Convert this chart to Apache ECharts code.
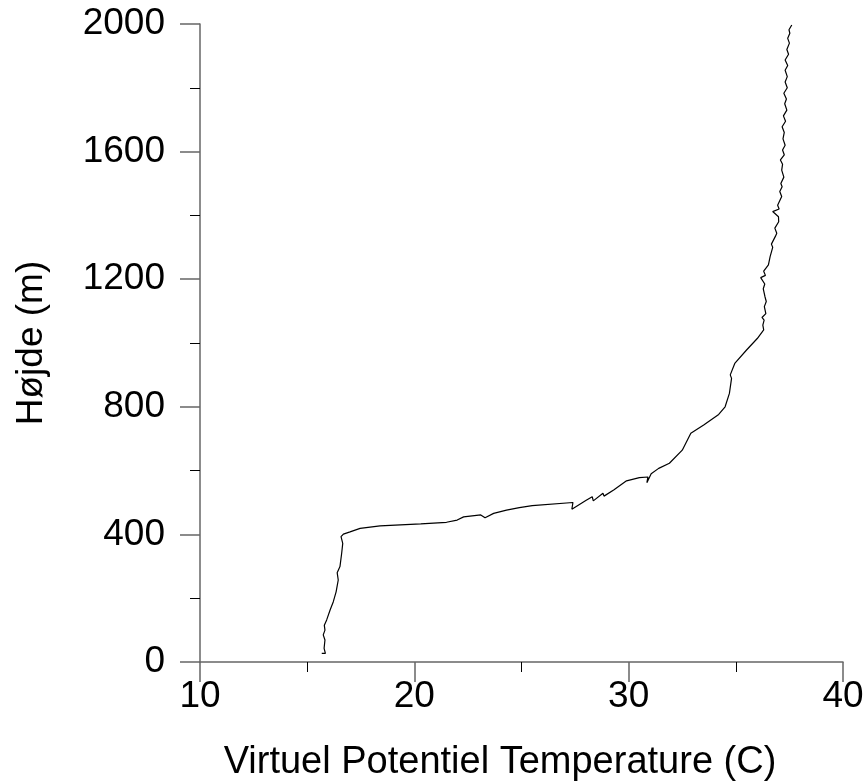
<!DOCTYPE html>
<html>
<head>
<meta charset="utf-8">
<script src="https://cdn.jsdelivr.net/npm/echarts@6/dist/echarts.min.js"></script>
<style>html,body{margin:0;padding:0;background:#fff;}#c{width:865px;height:781px;}</style>
</head>
<body>
<div id="c"></div>
<script>
// Virtual potential temperature (C) vs height (m)
var temps = [15.68,15.75,15.85,15.79,15.83,15.75,15.83,15.80,15.91,16.07,16.22,16.35,16.45,16.40,16.53,16.61,16.66,16.58,16.69,17.00,17.47,18.40,
  20.30,21.50,22.00,22.30,23.10,23.30,23.70,24.30,24.90,25.50,27.40,27.35,28.00,28.30,28.35,28.80,28.85,29.30,29.90,30.50,
  30.90,30.85,31.05,31.40,31.90,32.50,32.90,33.50,34.20,34.50,34.70,34.80,34.74,34.95,35.50,36.00,
  36.30,36.26,36.32,36.22,36.40,36.33,36.42,36.36,36.28,36.35,36.16,36.38,36.30,36.52,36.60,36.72,36.66,36.85,36.91,36.82,37.00,36.99,
  36.72,37.02,36.95,37.14,37.05,37.16,37.10,37.24,37.14,37.18,37.08,37.26,37.18,37.30,37.20,37.26,37.16,37.32,37.22,37.38,
  37.28,37.36,37.24,37.40,37.30,37.40,37.30,37.42,37.30,37.46,37.38,37.50,37.42,37.52,37.48,37.61];
var heights = [27,33,27,43,69,85,100,115,132,163,189,220,257,280,299,341,372,393,401,408,419,427,
  433,438,445,455,461,452,466,476,484,490,500,479,506,518,505,529,520,539,568,578,
  580,562,590,607,623,664,717,743,776,800,842,889,900,936,978,1014,
  1041,1056,1072,1080,1092,1114,1130,1145,1170,1185,1205,1212,1225,1245,1271,1300,1310,1335,1344,1360,1380,1396,
  1412,1420,1432,1459,1475,1490,1500,1520,1542,1560,1574,1590,1605,1620,1640,1660,1678,1695,1712,1730,
  1750,1765,1783,1800,1818,1835,1855,1870,1887,1905,1920,1940,1955,1971,1982,1997];
var xTicks = [10,20,30,40];
var yTicks = [0,400,800,1200,1600,2000];

var pts = temps.map(function(t,i){return [t, heights[i]];});
var chart = echarts.init(document.getElementById('c'));
var font = 'Liberation Sans, Arial, sans-serif';
chart.setOption({
  animation:false,
  backgroundColor:'#fff',
  grid:{left:200,right:22,top:24,bottom:119,containLabel:false,outerBoundsMode:'none'},
  xAxis:{type:'value',min:xTicks[0],max:xTicks[xTicks.length-1],interval:10,
    name:'Virtuel Potentiel Temperature (C)',nameLocation:'middle',nameGap:82,
    nameTextStyle:{fontFamily:font,fontSize:38,color:'#000',padding:[0,43,0,0]},
    axisLine:{show:true,onZero:false,lineStyle:{color:'#666',width:1.5}},
    axisTick:{show:true,inside:false,length:20,lineStyle:{color:'#666',width:1.5}},
    minorTick:{show:true,splitNumber:2,length:10,lineStyle:{color:'#000',width:1}},
    axisLabel:{margin:16,fontFamily:font,fontSize:37,color:'#000',formatter:function(v){return String(v);}},
    splitLine:{show:false},minorSplitLine:{show:false}},
  yAxis:{type:'value',min:yTicks[0],max:yTicks[yTicks.length-1],interval:400,
    name:'Højde (m)',nameLocation:'middle',nameGap:150,
    nameTextStyle:{fontFamily:font,fontSize:37,color:'#000'},
    axisLine:{show:true,onZero:false,lineStyle:{color:'#666',width:1.5}},
    axisTick:{show:true,inside:false,length:20,lineStyle:{color:'#666',width:1.5}},
    minorTick:{show:true,splitNumber:2,length:10,lineStyle:{color:'#000',width:1}},
    axisLabel:{margin:35,fontFamily:font,fontSize:37,color:'#000',formatter:function(v){return String(v);}},
    splitLine:{show:false},minorSplitLine:{show:false}},
  series:[{type:'line',data:pts,showSymbol:false,symbol:'none',
    lineStyle:{color:'#000',width:1.2},clip:false}]
});
</script>
</body>
</html>
